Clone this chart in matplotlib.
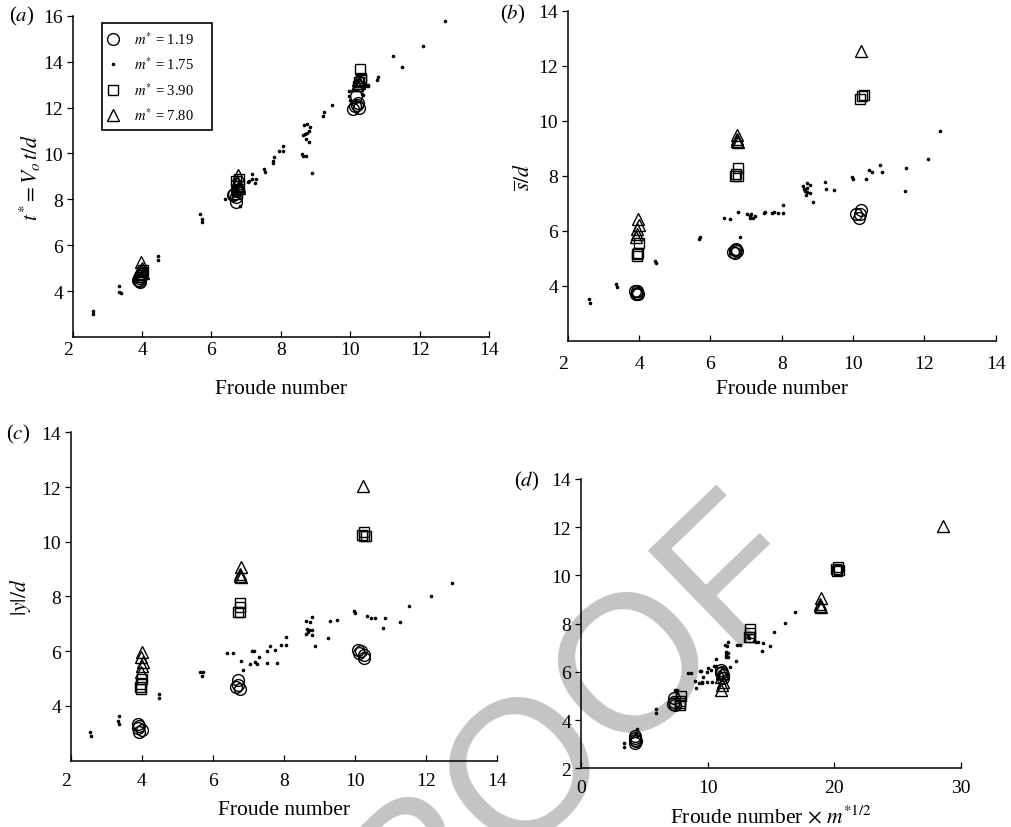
import numpy as np
import matplotlib
matplotlib.use("Agg")
import matplotlib.pyplot as plt

plt.rcParams['font.family'] = ['Liberation Serif', 'DejaVu Serif']
plt.rcParams['mathtext.fontset'] = 'stix'

# mass ratios
m_vals = [1.19, 1.75, 3.90, 7.80]

# (a) t* vs Froude number  -- (Fr, value) pairs
a_circ = [(3.9, 4.45), (3.92, 4.55), (3.95, 4.65), (3.88, 4.5), (4.0, 4.75), (3.95, 4.4),
          (6.65, 8.25), (6.7, 8.1), (6.72, 7.9), (6.75, 8.35), (6.62, 8.2),
          (10.09, 11.93), (10.15, 12.05), (10.22, 12.2), (10.25, 12.0), (10.18, 12.5), (10.2, 12.1)]
a_dot = [(2.6, 3.15), (2.6, 3.0), (3.35, 4.24), (3.35, 3.95), (3.38, 3.93), (4.47, 5.54), (4.47, 5.37),
         (5.67, 7.36), (5.72, 7.14), (5.73, 7.02), (6.39, 8.01), (6.7, 8.3), (6.75, 8.5), (6.82, 7.72),
         (7.04, 8.77), (7.08, 8.8), (7.18, 9.1), (7.18, 8.88), (7.25, 8.69), (7.29, 8.88),
         (7.52, 9.32), (7.53, 9.17), (7.76, 9.65), (7.78, 9.57), (7.8, 9.83),
         (7.95, 10.12), (8.05, 10.12), (8.05, 10.34), (8.62, 9.97), (8.63, 10.8), (8.65, 9.9),
         (8.7, 10.85), (8.72, 9.9), (8.75, 10.9), (8.66, 11.24), (8.75, 11.28), (8.84, 11.16),
         (8.72, 10.63), (8.8, 10.96), (8.82, 10.51), (8.89, 9.15), (9.22, 11.62), (9.25, 11.82),
         (9.47, 12.11), (9.97, 12.73), (9.97, 12.51), (10.0, 12.33), (10.15, 12.3), (10.35, 12.6),
         (10.38, 12.55), (10.4, 13.0), (10.5, 13.0), (10.52, 12.95), (10.78, 13.2), (10.8, 13.34),
         (11.24, 14.23), (11.5, 13.75), (12.1, 14.67), (12.73, 15.78)]
a_sq = [(3.97, 4.7), (4.0, 4.85), (3.95, 4.6), (4.02, 4.9),
        (6.75, 8.4), (6.78, 8.6), (6.72, 8.8), (6.8, 8.9), (6.75, 8.25),
        (10.28, 13.68), (10.23, 12.92), (10.3, 13.3), (10.25, 13.1), (10.32, 13.2)]
a_tri = [(3.98, 5.25), (4.0, 5.0), (3.97, 4.9), (4.02, 4.8),
         (6.77, 9.05), (6.75, 8.8), (6.8, 8.6), (6.78, 8.5), (6.73, 8.7),
         (10.22, 13.2), (10.25, 13.05), (10.3, 13.15), (10.2, 13.0)]

# (b) mean s/d vs Froude number
b_circ = [(3.9, 3.82), (3.93, 3.76), (3.98, 3.72), (3.92, 3.72), (3.95, 3.8),
          (6.63, 5.25), (6.72, 5.35), (6.68, 5.2), (6.75, 5.28), (6.7, 5.3),
          (10.08, 6.63), (10.22, 6.76), (10.16, 6.47), (10.2, 6.6)]
b_dot = [(2.6, 3.52), (2.62, 3.38), (3.35, 4.07), (3.38, 3.95), (4.45, 4.91), (4.47, 4.83),
         (5.69, 5.7), (5.72, 5.79), (6.37, 6.46), (6.56, 6.42), (6.77, 6.7), (6.82, 5.79),
         (7.02, 6.6), (7.1, 6.55), (7.15, 6.6), (7.2, 6.48), (7.24, 6.55), (7.12, 6.48),
         (7.5, 6.66), (7.54, 6.7), (7.72, 6.66), (7.77, 6.7), (7.89, 6.64), (8.03, 6.64), (8.03, 6.94),
         (8.6, 7.63), (8.62, 7.53), (8.65, 7.45), (8.7, 7.75), (8.72, 7.57), (8.78, 7.66),
         (8.8, 7.36), (8.68, 7.29), (8.87, 7.05), (8.72, 7.4), (9.22, 7.79), (9.25, 7.53),
         (9.47, 7.48), (9.97, 7.97), (9.99, 7.87), (10.36, 7.9), (10.45, 8.21), (10.52, 8.13),
         (10.76, 8.39), (10.81, 8.13), (11.45, 7.45), (11.48, 8.27), (12.11, 8.62), (12.45, 9.62)]
b_sq = [(4.0, 5.55), (3.97, 5.21), (3.93, 5.07), (3.95, 5.15),
        (6.77, 8.29), (6.7, 8.01), (6.77, 8.01), (6.73, 8.05),
        (10.2, 10.8), (10.32, 10.92), (10.26, 10.9)]
b_tri = [(3.97, 6.42), (4.0, 6.2), (3.95, 6.05), (3.93, 5.9), (3.92, 5.79),
         (6.74, 9.48), (6.74, 9.35), (6.78, 9.22), (6.76, 9.28),
         (10.22, 12.55)]

# (c) |y|/d vs Froude number
c_circ = [(3.9, 3.35), (3.92, 3.25), (4.0, 3.13), (3.92, 3.04), (3.9, 3.18),
          (6.72, 4.93), (6.65, 4.68), (6.77, 4.62), (6.7, 4.75),
          (10.1, 6.06), (10.18, 6.0), (10.12, 5.94), (10.26, 5.74), (10.25, 5.85)]
c_dot = [(2.54, 3.04), (2.56, 2.89), (3.31, 3.46), (3.34, 3.65), (3.36, 3.34), (4.47, 4.44), (4.49, 4.28),
         (5.64, 5.25), (5.73, 5.25), (5.7, 5.11), (6.4, 5.94), (6.58, 5.94), (6.79, 5.63), (6.85, 5.33),
         (7.04, 5.54), (7.1, 6.02), (7.17, 6.02), (7.2, 5.6), (7.25, 5.54), (7.29, 5.8),
         (7.53, 5.58), (7.6, 6.18), (7.53, 6.0), (7.76, 6.06), (7.8, 5.58), (7.93, 6.24),
         (8.06, 6.24), (8.07, 6.53), (8.61, 7.1), (8.63, 6.63), (8.66, 6.82), (8.7, 6.79),
         (8.73, 7.06), (8.8, 6.79), (8.8, 7.24), (8.88, 6.2), (8.8, 6.6), (8.68, 6.7),
         (9.25, 6.47), (9.29, 7.12), (9.49, 7.13), (9.98, 7.48), (10.0, 7.4), (10.35, 7.28),
         (10.45, 7.22), (10.56, 7.22), (10.8, 6.86), (10.84, 7.2), (11.27, 7.08), (11.53, 7.67),
         (12.16, 8.03), (12.75, 8.48)]
c_sq = [(4.0, 5.0), (3.97, 4.8), (3.96, 4.62), (3.95, 4.7),
        (6.75, 7.77), (6.7, 7.43), (6.77, 7.6), (6.75, 7.45),
        (10.27, 10.37), (10.2, 10.25), (10.32, 10.22), (10.25, 10.2)]
c_tri = [(4.0, 5.96), (3.97, 5.78), (4.02, 5.6), (4.0, 5.47), (3.97, 5.25),
         (6.78, 9.07), (6.75, 8.83), (6.78, 8.7), (6.76, 8.75),
         (10.24, 12.03)]

styles = [dict(marker='o', ms=8.5, mfc='none', mec='k', mew=1.0),
          dict(marker='o', ms=2.6, mfc='k', mec='k', mew=0),
          dict(marker='s', ms=7, mfc='none', mec='k', mew=1.0),
          dict(marker='^', ms=8, mfc='none', mec='k', mew=1.0)]

fig = plt.figure(figsize=(10.12, 8.28), dpi=100)
ax_a = fig.add_axes([0.0718, 0.5918, 0.4114, 0.388])
ax_b = fig.add_axes([0.561, 0.587, 0.4229, 0.3989])
ax_c = fig.add_axes([0.0702, 0.0801, 0.4206, 0.3966])
ax_d = fig.add_axes([0.5741, 0.0709, 0.3755, 0.3494])

TFS = 14    # tick labels
LFS = 15.5  # axis labels


def draw(ax, groups, scale_x=False):
    handles = []
    for g, st, m in zip(groups, styles, m_vals):
        x, y = zip(*g)
        x = np.array(x)
        if scale_x:
            x = x * np.sqrt(m)
        h, = ax.plot(x, y, ls='none', clip_on=False, **st)
        handles.append(h)
    return handles


def style(ax, xlim, ylim, xt, yt, xpad, first_right=True):
    ax.set_xlim(*xlim)
    ax.set_ylim(*ylim)
    ax.set_xticks(xt)
    ax.set_yticks(yt)
    for s in ['top', 'right']:
        ax.spines[s].set_visible(False)
    for s in ['left', 'bottom']:
        ax.spines[s].set_linewidth(1.1)
    ax.tick_params(axis='x', direction='in', length=4, width=0.9, labelsize=TFS, pad=xpad)
    ax.tick_params(axis='y', direction='out', length=4, width=0.9, labelsize=TFS, pad=3)
    ax.patch.set_alpha(0)
    if first_right:
        ax.get_xticklabels()[0].set_horizontalalignment('right')


hs = draw(ax_a, [a_circ, a_dot, a_sq, a_tri])
draw(ax_b, [b_circ, b_dot, b_sq, b_tri])
draw(ax_c, [c_circ, c_dot, c_sq, c_tri])
draw(ax_d, [c_circ, c_dot, c_sq, c_tri], scale_x=True)

style(ax_a, (2, 14), (2, 16), range(2, 15, 2), range(4, 17, 2), 3)
style(ax_b, (2, 14), (2, 14), range(2, 15, 2), range(4, 15, 2), 10)
style(ax_c, (2, 14), (2, 14), range(2, 15, 2), range(4, 15, 2), 8)
style(ax_d, (0, 30), (2, 14), [0, 10, 20, 30], range(2, 15, 2), 8, first_right=False)

ax_a.set_xlabel('Froude number', fontsize=LFS, labelpad=15)
ax_b.set_xlabel('Froude number', fontsize=LFS, labelpad=5)
ax_c.set_xlabel('Froude number', fontsize=LFS, labelpad=8)
ax_d.set_xlabel(r'Froude number $\times$ $m^{*1/2}$', fontsize=LFS, labelpad=6)
ax_a.set_ylabel(r'$t^{*} = V_o\,t/d$', fontsize=LFS, labelpad=0)
ax_b.set_ylabel(r'$\overline{s}/d$', fontsize=LFS, labelpad=2)
ax_c.set_ylabel(r'$|y|/d$', fontsize=LFS, labelpad=6)

leg = ax_a.legend(hs, [r'$m^{*}$ = %.2f' % m for m in m_vals], loc='upper left',
                  bbox_to_anchor=(0.0697, 0.5, 0.264, 0.477), mode='expand',
                  borderaxespad=0, fancybox=False, edgecolor='k', fontsize=10.5,
                  labelspacing=0.6, handlelength=0.6, handletextpad=1.1,
                  borderpad=0.5, framealpha=1)
leg.get_frame().set_linewidth(1.2)

# panel letters
PFS = 15
fig.text(22 / 1012, 1 - 16 / 828, r'($a$)', fontsize=PFS, ha='center', va='center')
fig.text(513 / 1012, 1 - 14 / 828, r'($b$)', fontsize=PFS, ha='center', va='center')
fig.text(18 / 1012, 1 - 434 / 828, r'($c$)', fontsize=PFS, ha='center', va='center')
fig.text(527 / 1012, 1 - 481 / 828, r'($d$)', fontsize=PFS, ha='center', va='center')

# proof watermark
fig.text(527 / 1012, 1 - 768 / 828, 'PROOF', fontsize=140, family='Liberation Sans',
         color='#c4c4c4', rotation=44, ha='center', va='center', zorder=-5)

fig.savefig('out.png', dpi=100)
